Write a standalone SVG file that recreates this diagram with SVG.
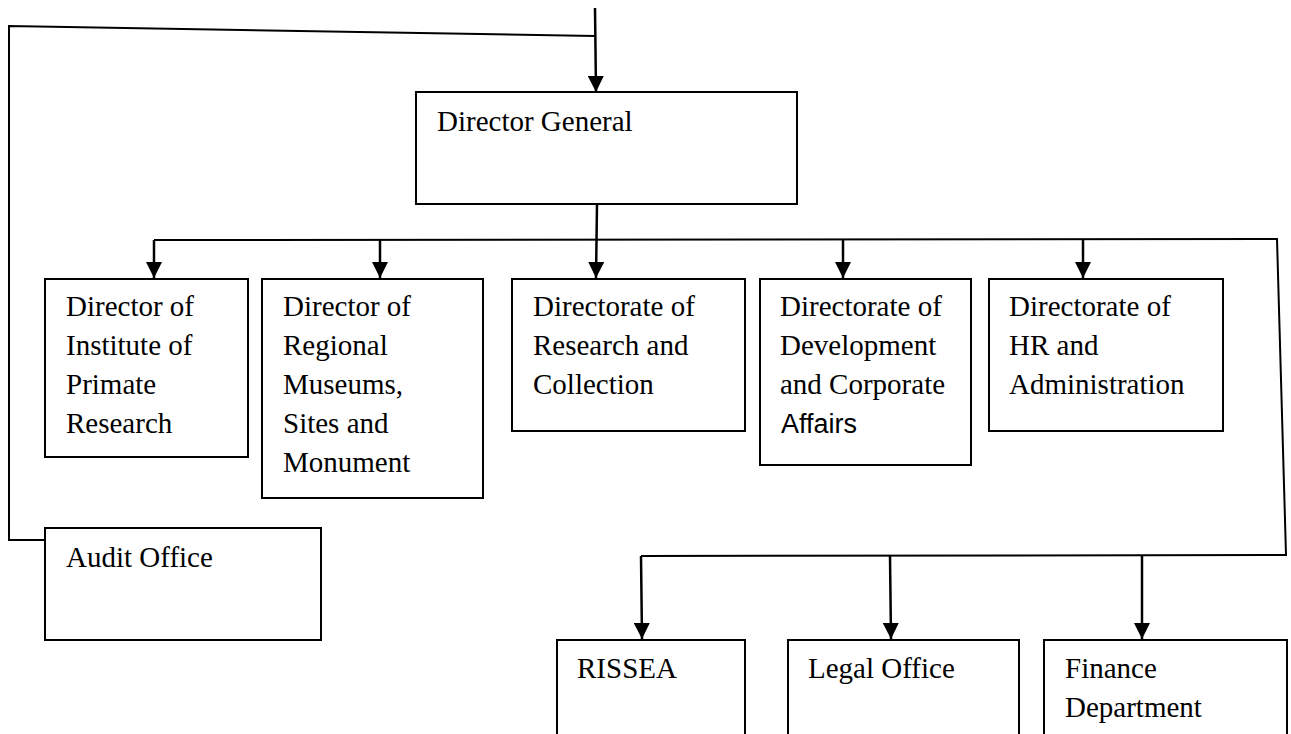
<svg xmlns="http://www.w3.org/2000/svg" width="1291" height="734" viewBox="0 0 1291 734">
<style>
.box{fill:#fff;stroke:#000;stroke-width:2}
.t{font-family:"Liberation Serif","Times New Roman",serif;font-size:29px;fill:#000}
.s{font-family:"Liberation Sans",Arial,sans-serif;font-size:27px;fill:#000}
.c{fill:none;stroke:#000;stroke-width:2}
.a{fill:none;stroke:#000;stroke-width:2.5}
</style>
<defs>
<marker id="ah" viewBox="0 0 16 16" refX="16" refY="8" markerWidth="16" markerHeight="16" markerUnits="userSpaceOnUse" orient="auto">
<path d="M0,0 L16,8 L0,16 z" fill="#000"/>
</marker>
</defs>
<rect width="1291" height="734" fill="#fff"/>
<g id="connectors">
<line class="a" x1="595" y1="8" x2="596" y2="92" marker-end="url(#ah)"/>
<polyline class="c" points="595,36 9,26 9,540 45,540"/>
<line class="a" x1="597" y1="204" x2="596" y2="278" marker-end="url(#ah)"/>
<polyline class="c" points="154,240 1277,239 1286,555 641,556"/>
<line class="a" x1="154" y1="240" x2="154" y2="278" marker-end="url(#ah)"/>
<line class="a" x1="380" y1="240" x2="380" y2="278" marker-end="url(#ah)"/>
<line class="a" x1="843" y1="239" x2="843" y2="278" marker-end="url(#ah)"/>
<line class="a" x1="1083" y1="239" x2="1083" y2="278" marker-end="url(#ah)"/>
<line class="a" x1="641" y1="556" x2="642" y2="639" marker-end="url(#ah)"/>
<line class="a" x1="890" y1="556" x2="891" y2="639" marker-end="url(#ah)"/>
<line class="a" x1="1142" y1="556" x2="1142" y2="639" marker-end="url(#ah)"/>
</g>
<g id="director-general">
<rect class="box" x="416" y="92" width="381" height="112"/>
<text class="t" x="437" y="131">Director General</text>
</g>
<g id="institute-primate">
<rect class="box" x="45" y="279" width="203" height="178"/>
<text class="t" x="66" y="316">Director of</text>
<text class="t" x="66" y="355">Institute of</text>
<text class="t" x="66" y="394">Primate</text>
<text class="t" x="66" y="433">Research</text>
</g>
<g id="regional-museums">
<rect class="box" x="262" y="279" width="221" height="219"/>
<text class="t" x="283" y="316">Director of</text>
<text class="t" x="283" y="355">Regional</text>
<text class="t" x="283" y="394">Museums,</text>
<text class="t" x="283" y="433">Sites and</text>
<text class="t" x="283" y="472">Monument</text>
</g>
<g id="research-collection">
<rect class="box" x="512" y="279" width="233" height="152"/>
<text class="t" x="533" y="316">Directorate of</text>
<text class="t" x="533" y="355">Research and</text>
<text class="t" x="533" y="394">Collection</text>
</g>
<g id="development-corporate">
<rect class="box" x="760" y="279" width="211" height="186"/>
<text class="t" x="780" y="316">Directorate of</text>
<text class="t" x="780" y="355">Development</text>
<text class="t" x="780" y="394">and Corporate</text>
<text class="s" x="781" y="433">Affairs</text>
</g>
<g id="hr-administration">
<rect class="box" x="989" y="279" width="234" height="152"/>
<text class="t" x="1009" y="316">Directorate of</text>
<text class="t" x="1009" y="355">HR and</text>
<text class="t" x="1009" y="394">Administration</text>
</g>
<g id="audit-office">
<rect class="box" x="45" y="528" width="276" height="112"/>
<text class="t" x="66" y="567">Audit Office</text>
</g>
<g id="rissea">
<rect class="box" x="557" y="640" width="188" height="130"/>
<text class="t" x="577" y="678">RISSEA</text>
</g>
<g id="legal-office">
<rect class="box" x="788" y="640" width="231" height="130"/>
<text class="t" x="808" y="678">Legal Office</text>
</g>
<g id="finance-department">
<rect class="box" x="1044" y="640" width="243" height="130"/>
<text class="t" x="1065" y="678">Finance</text>
<text class="t" x="1065" y="717">Department</text>
</g>
</svg>
